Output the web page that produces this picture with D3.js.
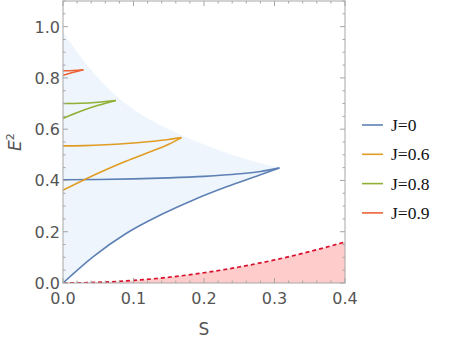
<!DOCTYPE html>
<html>
<head>
<meta charset="utf-8">
<script src="https://cdn.jsdelivr.net/npm/d3@7"></script>
<style>
  body { margin: 0; background: #fff; }
  .tick-label { font-family: "DejaVu Sans", sans-serif; font-size: 16px; fill: #555; }
  .axis-label { font-family: "DejaVu Sans", sans-serif; font-size: 17px; fill: #555; }
  .legend-label { font-family: "Liberation Serif", serif; font-size: 17.5px; fill: #111; }
</style>
</head>
<body>
<svg id="chart" width="454" height="343"></svg>
<script>
// values
const xTicks = [0, 0.1, 0.2, 0.3, 0.4]
const yTicks = [0, 0.2, 0.4, 0.6, 0.8, 1.0]

const blueUpperS = [0, 0.05, 0.1, 0.15, 0.2, 0.25, 0.28, 0.307]
const blueUpperE = [0.403, 0.404, 0.406, 0.41, 0.416, 0.426, 0.435, 0.449]
const blueLowerS = [0, 0.043, 0.09, 0.138, 0.185, 0.232, 0.279, 0.307]
const blueLowerE = [0, 0.103, 0.194, 0.265, 0.324, 0.375, 0.421, 0.449]

const orangeS = [0, 0.03, 0.06, 0.09, 0.12, 0.15, 0.168]
const orangeUpperE = [0.535, 0.536, 0.539, 0.544, 0.551, 0.56, 0.567]
const orangeLowerE = [0.362, 0.403, 0.441, 0.476, 0.508, 0.541, 0.567]

const greenS = [0, 0.025, 0.05, 0.075]
const greenUpperE = [0.70, 0.701, 0.705, 0.712]
const greenLowerE = [0.642, 0.67, 0.693, 0.712]

const redS = [0, 0.015, 0.029]
const redUpperE = [0.828, 0.829, 0.832]
const redLowerE = [0.81, 0.822, 0.832]

// upper edge of the light blue region
const envS = [0, 0.01, 0.024, 0.05, 0.075, 0.1, 0.13, 0.168, 0.2, 0.237, 0.27, 0.307]
const envE = [0.98, 0.94, 0.885, 0.80, 0.73, 0.677, 0.627, 0.577, 0.54, 0.502, 0.475, 0.449]

// dashed boundary of the pink region
const dashS = [0, 0.05, 0.1, 0.15, 0.2, 0.25, 0.3, 0.35, 0.4]
const dashE = [0, 0.0025, 0.01, 0.0225, 0.04, 0.0625, 0.09, 0.1225, 0.16]

const legendNames = ['J=0', 'J=0.6', 'J=0.8', 'J=0.9']
const colors = ['#5e81b5', '#e19c24', '#8fb032', '#eb6235']

const zip = (s, e) => s.map((v, i) => [v, e[i]])

let svg = d3.select('#chart')

let pLeft = 63, pRight = 345, pTop = 1, pBottom = 283

let x = d3.scaleLinear().domain([0, 0.4]).range([pLeft, pRight])
let y = d3.scaleLinear().domain([0, 1.1]).range([pBottom, pTop])

let line = d3.line()
.x(d => x(d[0]))
.y(d => y(d[1]))
.curve(d3.curveMonotoneX)

svg.append('clipPath')
.attr('id', 'clip')
.append('rect')
.attr('x', pLeft).attr('y', pTop)
.attr('width', pRight - pLeft).attr('height', pBottom - pTop)

let plot = svg.append('g').attr('clip-path', 'url(#clip)')

// light blue region
let envPath = line(zip(envS, envE))
let lowerBack = line(zip(blueLowerS, blueLowerE).reverse())
plot.append('path')
.attr('d', envPath + lowerBack.replace(/^M/, 'L') + 'Z')
.attr('fill', '#eef5fc')

// pink region
let dashPts = zip(dashS, dashE)
plot.append('path')
.attr('d', line(dashPts) + 'L' + x(0.4) + ',' + y(0) + 'L' + x(0) + ',' + y(0) + 'Z')
.attr('fill', '#ffcccc')

plot.append('path')
.attr('d', line(dashPts))
.attr('fill', 'none')
.attr('stroke', '#d8102c')
.attr('stroke-width', 1.7)
.attr('stroke-dasharray', '4,3')

let curves = [
  [zip(blueUpperS, blueUpperE), zip(blueLowerS, blueLowerE)],
  [zip(orangeS, orangeUpperE), zip(orangeS, orangeLowerE)],
  [zip(greenS, greenUpperE), zip(greenS, greenLowerE)],
  [zip(redS, redUpperE), zip(redS, redLowerE)]
]

curves.forEach((pair, i) => {
  pair.forEach(pts => {
    plot.append('path')
    .attr('d', line(pts))
    .attr('fill', 'none')
    .attr('stroke', colors[i])
    .attr('stroke-width', 1.6)
  })
})

// frame
let frame = svg.append('g')
frame.append('rect')
.attr('x', pLeft).attr('y', pTop)
.attr('width', pRight - pLeft).attr('height', pBottom - pTop)
.attr('fill', 'none')
.attr('stroke', '#a6a6a6')
.attr('stroke-width', 1)

let xMinor = d3.range(0, 0.4001, 0.02)
let yMinor = d3.range(0, 1.1001, 0.05)

xMinor.forEach(v => {
  let isMajor = xTicks.some(t => Math.abs(t - v) < 1e-6)
  let len = isMajor ? 5 : 2.5
  frame.append('line').attr('x1', x(v)).attr('x2', x(v)).attr('y1', pBottom).attr('y2', pBottom - len).attr('stroke', '#a6a6a6')
  frame.append('line').attr('x1', x(v)).attr('x2', x(v)).attr('y1', pTop).attr('y2', pTop + len).attr('stroke', '#a6a6a6')
})

yMinor.forEach(v => {
  let isMajor = yTicks.some(t => Math.abs(t - v) < 1e-6)
  let len = isMajor ? 5 : 2.5
  frame.append('line').attr('y1', y(v)).attr('y2', y(v)).attr('x1', pLeft).attr('x2', pLeft + len).attr('stroke', '#a6a6a6')
  frame.append('line').attr('y1', y(v)).attr('y2', y(v)).attr('x1', pRight).attr('x2', pRight - len).attr('stroke', '#a6a6a6')
})

// tick labels
svg.selectAll('.xlab')
.data(xTicks)
.enter()
.append('text')
.attr('class', 'tick-label')
.attr('x', d => x(d))
.attr('y', 304)
.attr('text-anchor', 'middle')
.text(d => d3.format('.1f')(d))

svg.selectAll('.ylab')
.data(yTicks)
.enter()
.append('text')
.attr('class', 'tick-label')
.attr('x', pLeft - 3)
.attr('y', d => y(d) + 6)
.attr('text-anchor', 'end')
.text(d => d3.format('.1f')(d))

// axis labels
svg.append('text')
.attr('class', 'axis-label')
.attr('x', 204)
.attr('y', 335)
.attr('text-anchor', 'middle')
.text('S')

let yl = svg.append('text')
.attr('class', 'axis-label')
.attr('transform', 'translate(21,' + ((pTop + pBottom) / 2) + ') rotate(-90)')
.attr('text-anchor', 'middle')
yl.append('tspan').attr('font-style', 'italic').text('E')
yl.append('tspan').attr('font-size', '11px').attr('dy', -7).text('2')

// legend
let legend = svg.append('g')
legendNames.forEach((name, i) => {
  let ly = 125 + i * 29.3
  legend.append('line')
  .attr('x1', 362).attr('x2', 383)
  .attr('y1', ly).attr('y2', ly)
  .attr('stroke', colors[i])
  .attr('stroke-width', 1.6)
  legend.append('text')
  .attr('class', 'legend-label')
  .attr('x', 391)
  .attr('y', ly + 6)
  .text(name)
})
</script>
</body>
</html>
